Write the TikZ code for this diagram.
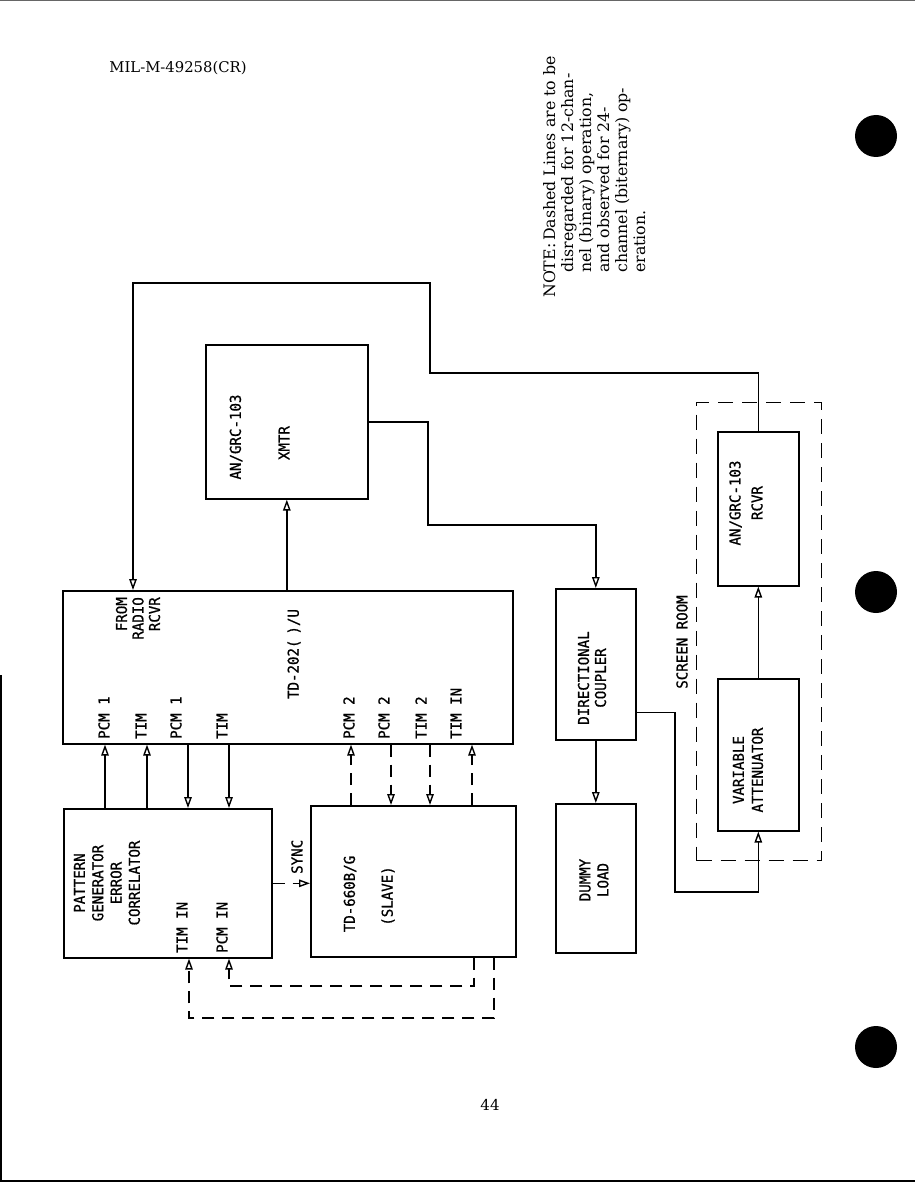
\documentclass[tikz,border=0pt]{standalone}
\usepackage{fontspec}
\usetikzlibrary{arrows.meta}
\newfontfamily\lettering[FakeBold=0.8, FakeStretch=0.94]{DejaVu Sans Mono}
\newfontfamily\typer{DejaVu Serif}
\tikzset{
  box/.style={draw, line width=1.6pt, anchor=north west, inner sep=0pt},
  conn/.style={line width=1.4pt},
  arr/.style={conn, -{Triangle[open, length=11pt, width=7.5pt]}},
  dsh/.style={dash pattern=on 12pt off 8pt},
  roomdash/.style={line width=1.4pt, dash pattern=on 15pt off 9pt},
  lbl/.style={rotate=90, inner sep=0pt, font=\lettering\fontsize{15}{18}\selectfont},
  note/.style={rotate=90, inner sep=0pt, align=left, font=\typer\fontsize{15.8}{18}\selectfont},
  hole/.style={fill=black, draw=none},
}
\begin{document}
\begin{tikzpicture}[x=1pt, y=-1pt]
\useasboundingbox (0,0) rectangle (915,1182);
% page edges
\draw[line width=0.8pt, black!60] (0,0.5) -- (915,0.5);
\draw[line width=2pt] (0,1181) -- (915,1181);
\draw[line width=1.5pt] (1,675) -- (1,1181);
% punch holes
\fill[hole] (876,136) circle (21);
\fill[hole] (876,592) circle (21);
\fill[hole] (876,1047) circle (21);
% header and page number
\node[inner sep=0pt, font=\typer\fontsize{14.8}{16}\selectfont] (hdr) at (178,68) {MIL-M-49258(CR)};
\node[inner sep=0pt, font=\typer\fontsize{15}{16}\selectfont] (pgno) at (490,1105) {44};
% boxes
\node[box, minimum width=162pt, minimum height=154pt] (xmtr) at (205,344) {};
\node[box, minimum width=450pt, minimum height=153pt] (td202) at (62,590) {};
\node[box, minimum width=208pt, minimum height=149pt] (pg) at (63,808) {};
\node[box, minimum width=205pt, minimum height=151pt] (td660) at (310,805) {};
\node[box, minimum width=80pt, minimum height=151pt] (dc) at (555,588) {};
\node[box, minimum width=80pt, minimum height=149pt] (dummy) at (555,803) {};
\node[box, minimum width=81pt, minimum height=152pt] (va) at (717,678) {};
\node[box, minimum width=81pt, minimum height=154pt] (rcvr) at (717,431) {};
\node[draw, roomdash, anchor=north west, inner sep=0pt, minimum width=125pt, minimum height=458pt] (room) at (696,402) {};
% texts
\node[lbl] (xmtrA) at (236,437) {AN/GRC-103};
\node[lbl] (xmtrB) at (284,443) {XMTR};
\node[lbl, anchor=east, align=right, font=\lettering\fontsize{15}{16.5}\selectfont] (from) at (138,597) {FROM\\RADIO\\RCVR};
\node[lbl] (tdname) at (294,654) {TD-202(\,\,)/U};
\node[lbl, anchor=west] (p1) at (104,739) {PCM 1};
\node[lbl, anchor=west] (p2) at (141,739) {TIM};
\node[lbl, anchor=west] (p3) at (176,739) {PCM 1};
\node[lbl, anchor=west] (p4) at (222,739) {TIM};
\node[lbl, anchor=west] (p5) at (349,739) {PCM 2};
\node[lbl, anchor=west] (p6) at (384,739) {PCM 2};
\node[lbl, anchor=west] (p7) at (421,739) {TIM 2};
\node[lbl, anchor=west] (p8) at (456,739) {TIM IN};
\node[lbl, align=center, font=\lettering\fontsize{15}{18.3}\selectfont] (pgname) at (107,883) {PATTERN\\GENERATOR\\ERROR\\CORRELATOR};
\node[lbl, anchor=west] (timin) at (182,953) {TIM IN};
\node[lbl, anchor=west] (pcmin) at (222,953) {PCM IN};
\node[lbl, anchor=west] (sync) at (297,874) {SYNC};
\node[lbl] (td660a) at (350,894) {TD-660B/G};
\node[lbl] (td660b) at (388,896) {(SLAVE)};
\node[lbl, align=center, font=\lettering\fontsize{15}{17}\selectfont] (dcname) at (592,678) {DIRECTIONAL\\COUPLER};
\node[lbl, align=center, font=\lettering\fontsize{15}{18}\selectfont] (dlname) at (594,880) {DUMMY\\LOAD};
\node[lbl, align=center, font=\lettering\fontsize{15}{19}\selectfont] (vaname) at (748,770) {VARIABLE\\ATTENUATOR};
\node[lbl, align=center, font=\lettering\fontsize{15}{22}\selectfont] (rcname) at (746,503) {AN/GRC-103\\RCVR};
\node[lbl] (roomname) at (682,642) {SCREEN ROOM};
\node[note, anchor=north west] (notetext) at (543,298) {%
  NOTE:\,Dashed Lines are to be\\
  \hspace*{25pt}disregarded for 12-chan-\\
  \hspace*{25pt}nel (binary) operation,\\
  \hspace*{25pt}and observed for 24-\\
  \hspace*{25pt}channel (biternary) op-\\
  \hspace*{25pt}eration.};
% connectors
\draw[arr] (rcvr.north) |- (430,373) |- (133,283) -- ([xshift=71pt]td202.north west);
\draw[arr] (xmtr.east) -| (428,525) -| (dc.north);
\draw[arr] (td202.north -| xmtr.south) -- (xmtr.south);
\draw[arr] ([xshift=42pt]pg.north west) -- ([xshift=43pt]td202.south west);
\draw[arr] ([xshift=84pt]pg.north west) -- ([xshift=85pt]td202.south west);
\draw[arr] ([xshift=126pt]td202.south west) -- ([xshift=125pt]pg.north west);
\draw[arr] ([xshift=167pt]td202.south west) -- ([xshift=166pt]pg.north west);
\draw[arr, dsh] ([xshift=41pt]td660.north west) -- ([xshift=289pt]td202.south west);
\draw[arr, dsh] ([xshift=329pt]td202.south west) -- ([xshift=81pt]td660.north west);
\draw[arr, dsh] ([xshift=368pt]td202.south west) -- ([xshift=120pt]td660.north west);
\draw[arr, dsh] ([xshift=162pt]td660.north west) -- ([xshift=410pt]td202.south west);
\draw[arr, dsh] (pg.east) -- (pg.east -| td660.west);
\draw[arr, dsh] ([xshift=164pt]td660.south west) |- (229,986) -- ([xshift=166pt]pg.south west);
\draw[arr, dsh] ([xshift=184pt]td660.south west) |- (189,1018) -- ([xshift=126pt]pg.south west);
\draw[arr] (dc.south) -- (dummy.north);
\draw[arr] ([yshift=28pt]dc.south east) -| (675,892) -| (va.south);
\draw[arr] (va.north) -- (rcvr.south);
\end{tikzpicture}
\end{document}
